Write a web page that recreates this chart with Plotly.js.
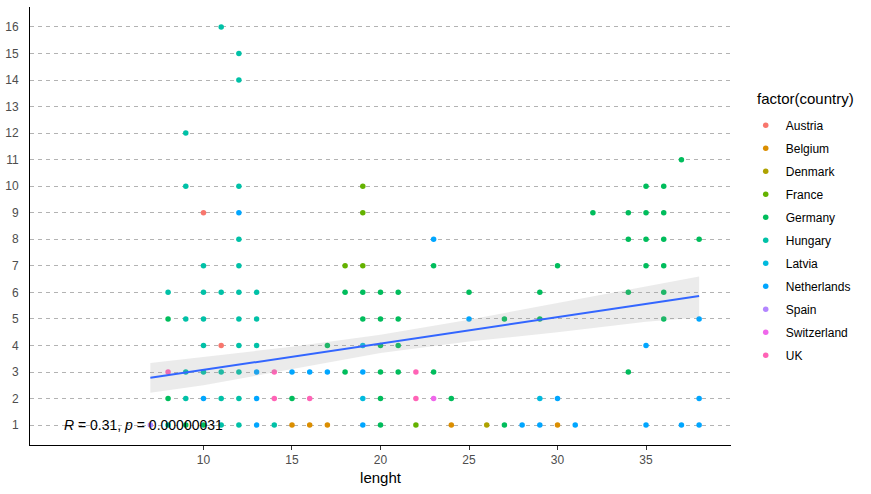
<!DOCTYPE html>
<html>
<head>
<meta charset="utf-8">
<script src="https://cdn.plot.ly/plotly-3.0.1.min.js"></script>
<style>html,body{margin:0;padding:0;background:#fff;}#chart{width:871px;height:494px;}</style>
</head>
<body>
<div id="chart"></div>
<script>
// ---- data ----
var countries = ["Austria","Belgium","Denmark","France","Germany","Hungary","Latvia","Netherlands","Spain","Switzerland","UK"];
var colors = ["#F8766D","#DB8E00","#AEA200","#64B200","#00BD5C","#00C1A7","#00BADE","#00A6FF","#B385FF","#EF67EB","#FF63B6"];

var austriaX = [10, 11];
var austriaY = [9, 4];
var belgiumX = [15, 16, 17, 24, 30];
var belgiumY = [1, 1, 1, 1, 1];
var denmarkX = [26];
var denmarkY = [1];
var franceX = [19, 19, 18, 19, 22];
var franceY = [10, 9, 7, 7, 1];
var germanyX = [37, 35, 36, 32, 34, 35, 36, 34, 35, 36, 38, 23, 30, 35, 36, 18, 19, 20, 21, 25, 29, 34, 36, 8, 19, 20, 21, 27, 29, 36, 17, 20, 21, 18, 20, 21, 23, 34, 8, 15, 20, 24, 9, 10, 20, 27];
var germanyY = [11, 10, 10, 9, 9, 9, 9, 8, 8, 8, 8, 7, 7, 7, 7, 6, 6, 6, 6, 6, 6, 6, 6, 5, 5, 5, 5, 5, 5, 5, 4, 4, 4, 3, 3, 3, 3, 3, 2, 2, 2, 2, 1, 1, 1, 1];
var hungaryX = [11, 12, 12, 9, 9, 12, 12, 10, 12, 8, 10, 11, 12, 13, 9, 10, 12, 13, 10, 12, 13, 9, 10, 11, 12, 9, 11, 12, 8, 11, 12, 14];
var hungaryY = [16, 15, 14, 12, 10, 10, 8, 7, 7, 6, 6, 6, 6, 6, 5, 5, 5, 5, 4, 4, 4, 3, 3, 3, 3, 2, 2, 2, 1, 1, 1, 1];
var latviaX = [19, 19, 29];
var latviaY = [4, 2, 2];
var netherlandsX = [12, 23, 25, 38, 35, 13, 15, 16, 17, 19, 10, 13, 30, 38, 13, 19, 28, 29, 31, 35, 37, 38];
var netherlandsY = [9, 8, 5, 5, 4, 3, 3, 3, 3, 3, 2, 2, 2, 2, 1, 1, 1, 1, 1, 1, 1, 1];
var spainX = [7];
var spainY = [1];
var switzerlandX = [23];
var switzerlandY = [2];
var ukX = [8, 14, 22, 14, 16, 22];
var ukY = [3, 3, 3, 2, 2, 2];

var seriesX = [austriaX, belgiumX, denmarkX, franceX, germanyX, hungaryX, latviaX, netherlandsX, spainX, switzerlandX, ukX];
var seriesY = [austriaY, belgiumY, denmarkY, franceY, germanyY, hungaryY, latviaY, netherlandsY, spainY, switzerlandY, ukY];

// linear fit and its confidence band
var fitX = [7, 38];
var fitY = [2.78, 5.86];
var bandX = [7, 10, 15, 20, 25, 30, 35, 38];
var bandLo = [2.22, 2.50, 3.12, 3.72, 4.15, 4.50, 4.89, 5.05];
var bandHi = [3.34, 3.56, 3.95, 4.40, 4.97, 5.60, 6.22, 6.60];

var xTicks = [10, 15, 20, 25, 30, 35];
var yTicks = [1,2,3,4,5,6,7,8,9,10,11,12,13,14,15,16];
var corLabel = "<i>R</i> = 0.31, <i>p</i> = 0.00000031";
var legendTitle = "factor(country)";

// ---- traces ----
var traces = [];
for (var i = 0; i < countries.length; i++) {
  traces.push({
    type: "scatter", mode: "markers", name: countries[i],
    legendgroup: countries[i],
    x: seriesX[i], y: seriesY[i],
    marker: {color: colors[i], size: 5.5},
    hoverinfo: "x+y+name"
  });
}
traces.push({
  type: "scatter", mode: "lines", x: bandX.concat(bandX.slice().reverse()),
  y: bandHi.concat(bandLo.slice().reverse()),
  fill: "toself", fillcolor: "rgba(153,153,153,0.2)",
  line: {width: 0, color: "rgba(0,0,0,0)"}, showlegend: false, hoverinfo: "skip"
});
traces.push({
  type: "scatter", mode: "lines", x: fitX, y: fitY,
  line: {color: "#3366FF", width: 2}, showlegend: false, hoverinfo: "skip"
});

var layout = {
  width: 871, height: 494,
  paper_bgcolor: "#ffffff", plot_bgcolor: "#ffffff",
  margin: {l: 29.5, r: 140, t: 7, b: 49},
  font: {family: "Liberation Sans, Arial, sans-serif", color: "#000000"},
  showlegend: true,
  xaxis: {
    range: [0.2, 39.8], tickvals: xTicks, ticktext: xTicks.map(String),
    showgrid: false, zeroline: false,
    showline: true, linecolor: "#000000", linewidth: 1,
    ticks: "outside", ticklen: 4, tickcolor: "#333333", tickwidth: 1,
    tickfont: {size: 12, color: "#4D4D4D"},
    title: {text: "lenght", font: {size: 15, color: "#000000"}, standoff: 6},
    automargin: false
  },
  yaxis: {
    range: [0.25, 16.75], tickvals: yTicks, ticktext: yTicks.map(String),
    showgrid: true, gridcolor: "#B3B3B3", gridwidth: 1, griddash: "4px,4px",
    zeroline: false,
    showline: true, linecolor: "#000000", linewidth: 1,
    ticks: "", ticklabelstandoff: 8,
    tickfont: {size: 12, color: "#4D4D4D"},
    automargin: false
  },
  legend: {
    x: 1.021, xanchor: "left", y: 0.763, yanchor: "top",
    font: {size: 12, color: "#000000"},
    tracegroupgap: 4, bgcolor: "rgba(0,0,0,0)"
  },
  annotations: [{
    x: 2, y: 1, xref: "x", yref: "y", text: corLabel, showarrow: false,
    xanchor: "left", yanchor: "middle", font: {size: 14, color: "#000000"}
  }, {
    x: 1.034, y: 0.792, xref: "paper", yref: "paper", text: legendTitle, showarrow: false,
    xanchor: "left", yanchor: "middle", font: {size: 15, color: "#000000"}
  }]
};

Plotly.newPlot("chart", traces, layout, {staticPlot: true, displayModeBar: false});
</script>
</body>
</html>
